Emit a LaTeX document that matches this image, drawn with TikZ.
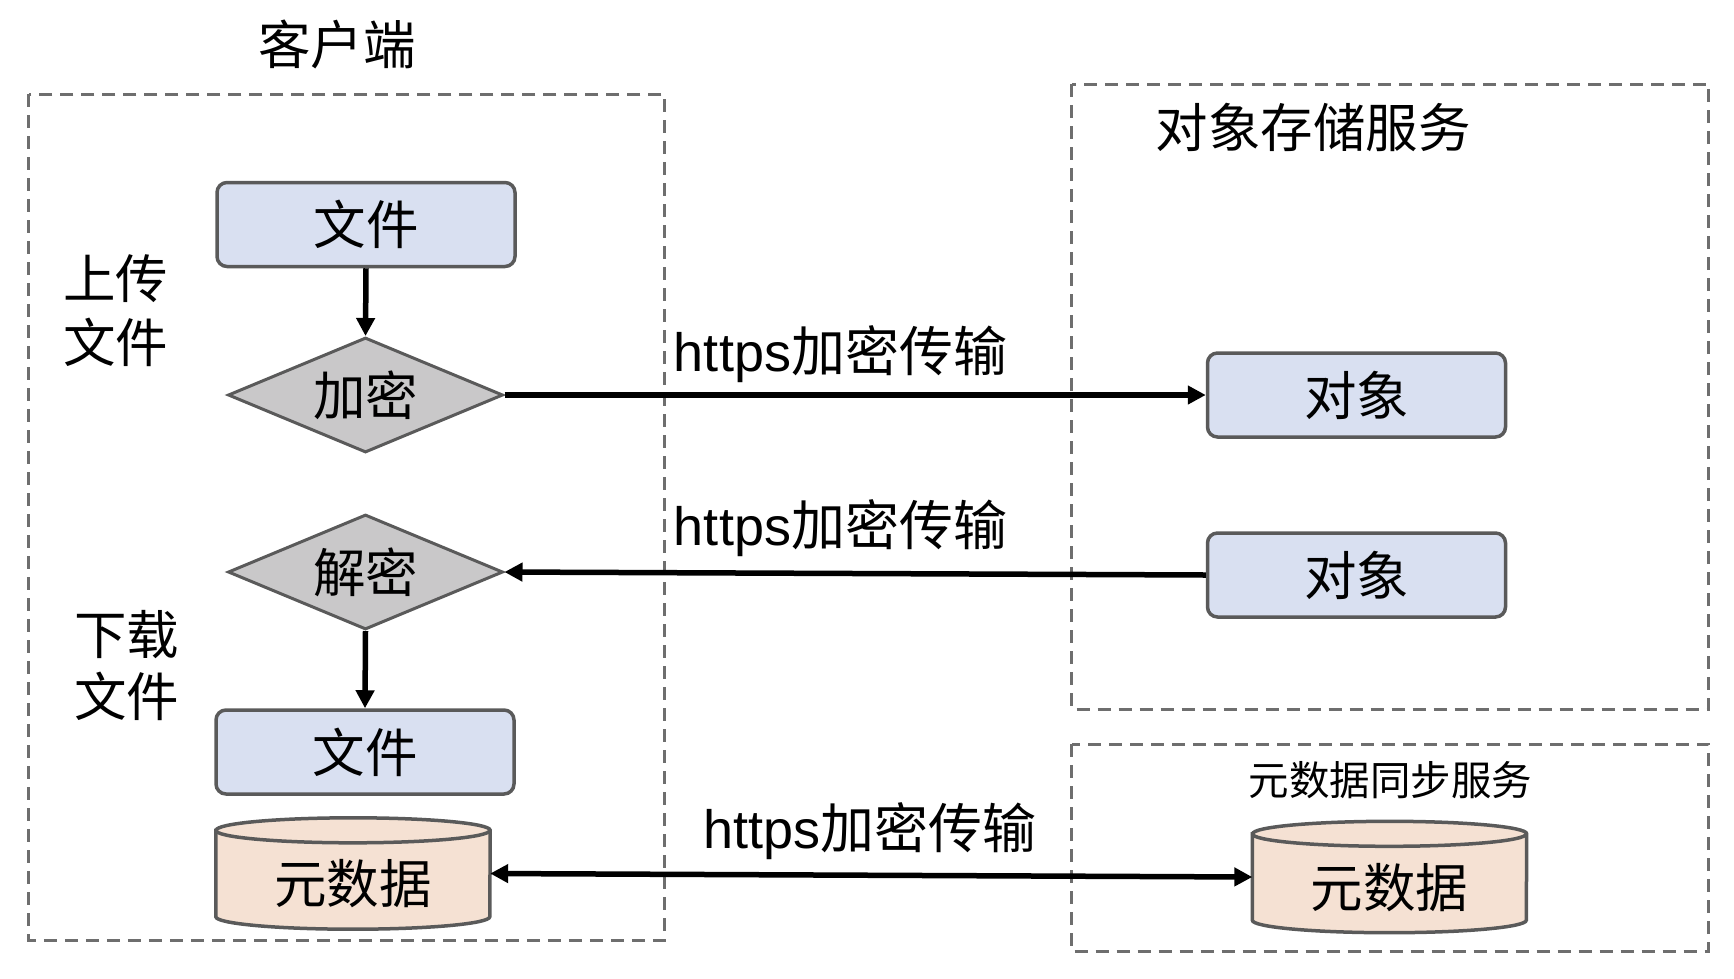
\documentclass[tikz,border=0pt]{standalone}
\usepackage{fontspec}
\setmainfont{Noto Sans CJK SC}
\newfontfamily\lat{Liberation Sans}
\usetikzlibrary{shapes.geometric,arrows.meta,calc,backgrounds}
\definecolor{boxblue}{HTML}{D9E0F1}
\definecolor{diagray}{HTML}{C9C8C9}
\definecolor{peach}{HTML}{F5E1D3}
\definecolor{edgec}{HTML}{5A5A5A}
\definecolor{dashc}{HTML}{6E6E6E}
\newcommand{\mycyl}[1]{%
  \begin{pgfonlayer}{background}
  \path[draw=edgec, line width=3.5pt, fill=peach]
    ($(#1.north west)+(0,-12.5)$) -- ($(#1.south west)+(0,12.5)$)
    arc[start angle=180, end angle=360, x radius=137, y radius=12.5]
    -- ($(#1.north east)+(0,-12.5)$)
    arc[start angle=0, end angle=180, x radius=137, y radius=12.5] -- cycle;
  \draw[edgec, line width=3.5pt] ($(#1.north west)+(0,-12.5)$)
    arc[start angle=180, end angle=360, x radius=137, y radius=12.5];
  \end{pgfonlayer}}
\begin{document}
\begin{tikzpicture}[x=1pt,y=1pt,
  big/.style={font=\fontsize{52.5}{62}\selectfont},
  filebox/.style={draw=edgec, line width=3.5pt, fill=boxblue, rounded corners=10pt,
    minimum width=298pt, minimum height=84pt, inner sep=0pt, big},
  dia/.style={diamond, draw=edgec, line width=3pt, fill=diagray, aspect=2.4,
    minimum width=275pt, minimum height=115pt, inner sep=0pt, big},
  cylnode/.style={minimum width=274pt, minimum height=111pt, inner sep=0pt, big,
    text height=66pt, text depth=6pt},
  region/.style={draw=dashc, line width=3pt, dash pattern=on 13pt off 8pt},
  lbl/.style={inner sep=0pt, big},
  hlbl/.style={inner sep=0pt, font=\fontsize{54}{64}\selectfont},
  conn/.style={line width=5.5pt, -{Triangle[length=18pt,width=18pt]}},
  conn2/.style={line width=5.5pt, {Triangle[length=18pt,width=18pt]}-{Triangle[length=18pt,width=18pt]}},
]
\useasboundingbox (0,0) rectangle (1734,-978);

% regions
\draw[region] (28.8,-94) rectangle (664.6,-940);
\draw[region] (1071.6,-84) rectangle (1708.6,-709);
\draw[region] (1071.6,-744) rectangle (1708.6,-951);

% titles
\node[lbl] (tclient) at (337,-44) {客户端};
\node[lbl] (tobj) at (1313,-127) {对象存储服务};
\node[inner sep=0pt, font=\fontsize{40.5}{48}\selectfont] (tmeta) at (1390.5,-780) {元数据同步服务};
\node[lbl] (up1) at (115.6,-279) {上传};
\node[lbl] (up2) at (115.6,-342) {文件};
\node[lbl] (dn1) at (126.6,-635) {下载};
\node[lbl] (dn2) at (126.6,-696) {文件};

% client nodes
\node[filebox] (file1) at (366,-224.5) {文件};
\node[dia] (enc) at (365.5,-395) {加密};
\node[dia] (dec) at (365.5,-572) {解密};
\node[filebox] (file2) at (365,-752) {文件};
\node[cylnode] (meta1) at (353,-873.5) {元数据};
\mycyl{meta1}

% server nodes
\node[filebox] (obj1) at (1356.5,-395) {对象};
\node[filebox] (obj2) at (1356.5,-575) {对象};
\node[cylnode] (meta2) at (1389.5,-877) {元数据};
\mycyl{meta2}

% connectors
\draw[conn] (file1.south) -- (enc.north);
\draw[conn] (dec.south) -- (file2.north);
\draw[conn] (enc.east) -- (obj1.west);
\draw[conn] (obj2.west) -- (dec.east);
\draw[conn2] (meta1.east) -- (meta2.west);

% labels
\node[hlbl] (h1) at (840.5,-354) {{\lat https}加密传输};
\node[hlbl] (h2) at (840.5,-528) {{\lat https}加密传输};
\node[hlbl] (h3) at (870,-831) {{\lat https}加密传输};
\end{tikzpicture}
\end{document}
